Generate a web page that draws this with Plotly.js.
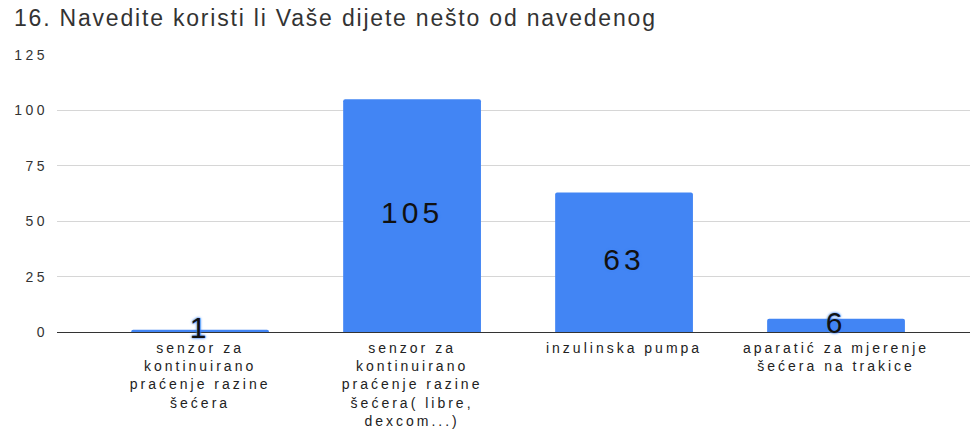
<!DOCTYPE html>
<html>
<head>
<meta charset="utf-8">
<script src="https://cdn.plot.ly/plotly-3.0.1.min.js"></script>
<style>
html,body{margin:0;padding:0;background:#fff;}
#chart{width:971px;height:431px;}
.xtick text{letter-spacing:3px;}
.ytick text{letter-spacing:3.5px;}
.gtitle{letter-spacing:1.8px;}
.textpoint text{letter-spacing:4px;}
</style>
</head>
<body>
<div id="chart"></div>
<script>
const categories = [
  "senzor za kontinuirano praćenje razine šećera",
  "senzor za kontinuirano praćenje razine šećera( libre, dexcom...)",
  "inzulinska pumpa",
  "aparatić za mjerenje šećera na trakice"
];
const tickLabels = [
  "senzor za<br>kontinuirano<br>praćenje razine<br>šećera",
  "senzor za<br>kontinuirano<br>praćenje razine<br>šećera( libre,<br>dexcom...)",
  "inzulinska pumpa",
  "aparatić za mjerenje<br>šećera na trakice"
];
const values = [1, 105, 63, 6];
const yTicks = [0, 25, 50, 75, 100, 125];
const titleText = "16. Navedite koristi li Vaše dijete nešto od navedenog";

const barTrace = {
  type: "bar",
  x: categories,
  y: values,
  width: 0.65,
  marker: {color: "#4285f4", cornerradius: 2},
  hoverinfo: "none"
};
const labelTrace = {
  type: "scatter",
  mode: "text",
  x: categories,
  y: values.map(v => v / 2),
  text: values.map(String),
  textposition: "middle center",
  textfont: {family: "Liberation Sans, Arial, sans-serif", size: 30, color: "#111",
             shadow: "0px 0px 2px #4285f4, 0px 0px 3px #4285f4"},
  hoverinfo: "none",
  cliponaxis: false
};

const layout = {
  width: 971, height: 431,
  margin: {l: 57, r: 1, t: 55, b: 99},
  paper_bgcolor: "#fff", plot_bgcolor: "#fff",
  showlegend: false,
  title: {
    text: titleText,
    x: 14/971, xref: "container", xanchor: "left",
    y: 1 - 10/431, yref: "container", yanchor: "top",
    font: {family: "Liberation Sans, Arial, sans-serif", size: 23, color: "#333"}
  },
  xaxis: {
    type: "category",
    range: [-0.675, 3.632],
    tickmode: "array",
    tickvals: categories,
    ticktext: tickLabels,
    tickangle: 0,
    showgrid: false,
    showline: false,
    ticks: "",
    ticklabelstandoff: 6,
    tickfont: {family: "Liberation Sans, Arial, sans-serif", size: 14, color: "#222"}
  },
  yaxis: {
    range: [0, 125],
    tickmode: "array",
    tickvals: yTicks,
    ticktext: yTicks.map(String),
    showgrid: true,
    gridcolor: "#d6d6d6",
    gridwidth: 1,
    zeroline: true,
    zerolinecolor: "#333",
    zerolinewidth: 1,
    ticks: "",
    ticklabelstandoff: 8,
    tickfont: {family: "Liberation Sans, Arial, sans-serif", size: 14, color: "#333"}
  }
};

Plotly.newPlot("chart", [barTrace, labelTrace], layout, {displayModeBar: false, staticPlot: true});
</script>
</body>
</html>
